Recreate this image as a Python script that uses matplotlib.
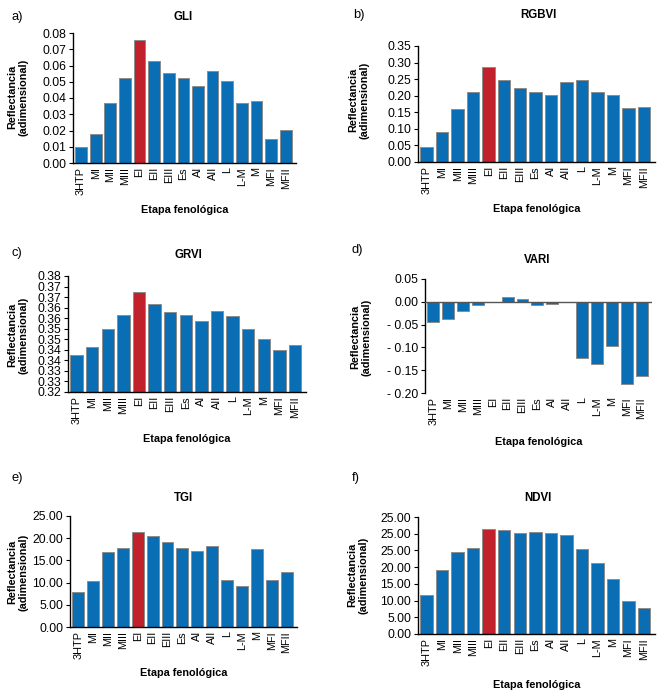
import matplotlib
matplotlib.use("Agg")
import matplotlib.pyplot as plt

plt.rcParams['font.family'] = ['Liberation Sans', 'DejaVu Sans']

stages = ["3HTP", "MI", "MII", "MIII", "EI", "EII", "EIII", "Es", "AI", "AII", "L", "L-M", "M", "MFI", "MFII"]

gli = [0.0101, 0.0181, 0.0371, 0.0523, 0.0757, 0.0628, 0.0556, 0.0521, 0.0474, 0.0566, 0.0505, 0.0369, 0.0379, 0.0150, 0.0205]
rgbvi = [0.044, 0.0915, 0.159, 0.212, 0.287, 0.2475, 0.222, 0.211, 0.201, 0.2415, 0.2475, 0.211, 0.201, 0.162, 0.166]
grvi = [0.3377, 0.3412, 0.3499, 0.3566, 0.3675, 0.3615, 0.3577, 0.3564, 0.3537, 0.3586, 0.3558, 0.3497, 0.3453, 0.3398, 0.3425]
vari = [-0.045, -0.038, -0.020, -0.008, -0.001, 0.011, 0.006, -0.0066, -0.0044, -0.001, -0.124, -0.136, -0.097, -0.180, -0.163]
tgi = [7.98, 10.47, 16.87, 17.7, 21.39, 20.41, 19.05, 17.7, 17.02, 18.22, 10.69, 9.19, 17.55, 10.69, 12.35]
ndvi = [11.6, 19.0, 24.4, 25.6, 31.5, 31.2, 30.3, 30.6, 30.1, 29.6, 25.5, 21.3, 16.4, 9.9, 7.8]

gli_ticks = [0.00, 0.01, 0.02, 0.03, 0.04, 0.05, 0.06, 0.07, 0.08]
gli_labels = ["0.00", "0.01", "0.02", "0.03", "0.04", "0.05", "0.06", "0.07", "0.08"]
rgbvi_ticks = [0.00, 0.05, 0.10, 0.15, 0.20, 0.25, 0.30, 0.35]
rgbvi_labels = ["0.00", "0.05", "0.10", "0.15", "0.20", "0.25", "0.30", "0.35"]
grvi_ticks = [0.32, 0.325, 0.33, 0.335, 0.34, 0.345, 0.35, 0.355, 0.36, 0.365, 0.37, 0.375]
grvi_labels = ["0.32", "0.33", "0.33", "0.34", "0.34", "0.35", "0.35", "0.36", "0.36", "0.37", "0.37", "0.38"]
vari_ticks = [-0.20, -0.15, -0.10, -0.05, 0.00, 0.05]
vari_labels = ["- 0.20", "- 0.15", "- 0.10", "- 0.05", "0.00", "0.05"]
tgi_ticks = [0, 5, 10, 15, 20, 25]
tgi_labels = ["0.00", "5.00", "10.00", "15.00", "20.00", "25.00"]
ndvi_ticks = [0, 5, 10, 15, 20, 25, 30, 35]
ndvi_labels = ["0.00", "5.00", "10.00", "15.00", "20.00", "25.00", "25.00", "25.00"]

BLUE = "#0a6eb4"
RED = "#c1212b"
EDGE = "#8c8c8c"
W, H = 660, 691
FS = 7.8

fig = plt.figure(figsize=(W / 100, H / 100), dpi=100)


def add_ax(l, t, r, b):
    return fig.add_axes([l / W, 1 - b / H, (r - l) / W, (b - t) / H])


panels = [
    dict(vals=gli, ticks=gli_ticks, labels=gli_labels, title="GLI", tag="a)",
         box=(73, 33, 296, 163), title_xy=(183, 17), tag_xy=(12, 17), yl_xy=(18, 97), xl_y=210, red=True),
    dict(vals=rgbvi, ticks=rgbvi_ticks, labels=rgbvi_labels, title="RGBVI", tag="b)",
         box=(418, 46, 655, 162), title_xy=(538, 15), tag_xy=(353, 15), yl_xy=(359, 100), xl_y=209, red=True),
    dict(vals=grvi, ticks=grvi_ticks, labels=grvi_labels, title="GRVI", tag="c)",
         box=(68, 276, 306, 392), title_xy=(188, 255), tag_xy=(12, 253), yl_xy=(18, 335), xl_y=439, red=True),
    dict(vals=vari, ticks=vari_ticks, labels=vari_labels, title="VARI", tag="d)",
         box=(425, 279, 652, 393), title_xy=(537, 260), tag_xy=(352, 250), yl_xy=(361, 337), xl_y=442, red=False),
    dict(vals=tgi, ticks=tgi_ticks, labels=tgi_labels, title="TGI", tag="e)",
         box=(70, 516, 297, 627), title_xy=(183, 498), tag_xy=(12, 478), yl_xy=(18, 572), xl_y=673, red=True),
    dict(vals=ndvi, ticks=ndvi_ticks, labels=ndvi_labels, title="NDVI", tag="f)",
         box=(418, 517, 655, 634), title_xy=(538, 498), tag_xy=(352, 478), yl_xy=(358, 575), xl_y=685, red=True),
]

for p in panels:
    ax = add_ax(*p["box"])
    x = list(range(len(stages)))
    colors = [RED if (p["red"] and s == "EI") else BLUE for s in stages]
    base = p["ticks"][0] if p["ticks"][0] > 0 else 0
    heights = [v - base for v in p["vals"]]
    ax.bar(x, heights, bottom=base, width=0.8, color=colors, edgecolor=EDGE, linewidth=0.7, zorder=2)
    ax.set_xlim(-0.55, 14.7)
    ax.set_ylim(p["ticks"][0], p["ticks"][-1])
    ax.set_yticks(p["ticks"])
    ax.set_yticklabels(p["labels"], fontsize=FS + 1)
    ax.set_xticks(x)
    ax.set_xticklabels(stages, rotation=90, fontsize=FS)
    ax.tick_params(axis='x', length=0, pad=3)
    ax.tick_params(axis='y', length=3, width=0.8, pad=2)
    for s in ("top", "right"):
        ax.spines[s].set_visible(False)
    ax.spines["left"].set_linewidth(1.0)
    ax.spines["bottom"].set_linewidth(1.0)
    if p["title"] == "VARI":
        ax.spines["bottom"].set_visible(False)
        ax.axhline(0, color="#555555", linewidth=1.0, zorder=3)
    fig.text(p["title_xy"][0] / W, 1 - p["title_xy"][1] / H, p["title"], fontsize=FS + 0.5,
             fontweight="bold", ha="center", va="center")
    fig.text(p["tag_xy"][0] / W, 1 - p["tag_xy"][1] / H, p["tag"], fontsize=FS + 1.5,
             ha="left", va="center")
    fig.text(p["yl_xy"][0] / W, 1 - p["yl_xy"][1] / H, "Reflectancia\n(adimensional)", fontsize=FS,
             fontweight="bold", rotation=90, ha="center", va="center", multialignment="center",
             linespacing=1.1)
    cx = (p["box"][0] + p["box"][2]) / 2
    fig.text(cx / W, 1 - p["xl_y"] / H, "Etapa fenológica", fontsize=FS,
             fontweight="bold", ha="center", va="center")

fig.savefig("out.png", dpi=100)
